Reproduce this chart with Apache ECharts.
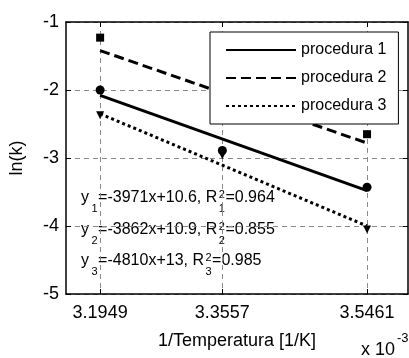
<!DOCTYPE html>
<html>
<head>
<meta charset="utf-8">
<script src="https://cdn.jsdelivr.net/npm/echarts@6/dist/echarts.min.js"></script>
<style>
  html, body { margin: 0; padding: 0; background: #fff; }
  #chart { width: 409px; height: 358px; }
</style>
</head>
<body>
<div id="chart"></div>
<script>
// x values are 1/T in units of 1e-3 1/K
const xTicks = [3.1949, 3.3557, 3.5461];
const yRange = [-5, -1];

// measured ln(k) points per procedure
const pts1 = [-2.0, -2.89, -3.43];
const pts2 = [-1.23, -2.42, -2.65];
const pts3 = [-2.37, -2.96, -4.05];

// regression lines, values at the first and last x tick
const fitX = [3.1949, 3.5461];
const fit1 = [-2.08, -3.48];
const fit2 = [-1.42, -2.78];
const fit3 = [-2.35, -4.0];

const names = ["procedura 1", "procedura 2", "procedura 3"];
const eqBody = ["=-3971x+10.6, R", "=-3862x+10.9, R", "=-4810x+13, R"];
const eqR2 = ["=0.964", "=0.855", "=0.985"];

const FONT = "Liberation Sans";
const zip = (xs, ys) => xs.map((x, i) => [x, ys[i]]);

// measure with zrender itself so layout matches what gets drawn
const textW = (t, size) =>
  new echarts.graphic.Text({ style: { text: t, fontSize: size, fontFamily: FONT } }).getBoundingRect().width;

function txt(text, x, y, size, align) {
  return {
    type: "text", x: x, y: y,
    style: { text: text, fontSize: size, fontFamily: FONT, fill: "#000", align: align || "left", verticalAlign: "middle" }
  };
}

// y_i=..., R^2_i=... with stacked sub/superscript
function eqLine(i, x0, y) {
  const sub = String(i + 1);
  const out = [txt("y", x0, y, 16)];
  let x = x0 + textW("y", 16) + 2.5;
  out.push(txt(sub, x, y + 11, 11));
  x += textW(sub, 11) + 0.5;
  out.push(txt(eqBody[i], x, y, 16));
  x += textW(eqBody[i], 16) + 1.5;
  out.push(txt("2", x, y - 3, 11));
  out.push(txt(sub, x, y + 11, 11));
  x += Math.max(textW("2", 11), textW(sub, 11)) + 0.5;
  out.push(txt(eqR2[i], x, y, 16));
  return out;
}

const chart = echarts.init(document.getElementById("chart"), null, { renderer: "canvas" });

const gridDash = { color: "#8a8a8a", type: [5, 4], width: 1 };
const axisLine = { show: true, lineStyle: { color: "#000", width: 1.5 } };

chart.setOption({
  backgroundColor: "#fff",
  animation: false,
  textStyle: { fontFamily: FONT },
  grid: { left: 64, right: 1, top: 22, bottom: 64, containLabel: false },
  legend: {
    data: names,
    orient: "vertical",
    left: 210,
    top: 32,
    padding: [10, 12, 10, 15],
    itemWidth: 70,
    itemHeight: 14,
    itemGap: 12,
    backgroundColor: "#fff",
    borderColor: "#000",
    borderWidth: 1,
    borderRadius: 0,
    itemStyle: { opacity: 0 },
    textStyle: { color: "#000", fontSize: 16, fontFamily: FONT }
  },
  xAxis: [
    {
      type: "value",
      min: 3.15,
      max: 3.6,
      name: "1/Temperatura [1/K]",
      nameLocation: "middle",
      nameGap: 38,
      nameTextStyle: { color: "#000", fontSize: 18, fontFamily: FONT },
      axisLine: axisLine,
      axisTick: { show: true, inside: true, length: 5, customValues: xTicks, lineStyle: { color: "#000" } },
      axisLabel: {
        customValues: xTicks,
        formatter: v => v.toFixed(4),
        color: "#000", fontSize: 18, fontFamily: FONT, margin: 10
      },
      splitLine: { show: true, lineStyle: gridDash }
    },
    {
      type: "value",
      position: "top",
      min: 3.15,
      max: 3.6,
      axisLine: axisLine,
      axisTick: { show: true, inside: true, length: 5, customValues: xTicks, lineStyle: { color: "#000" } },
      axisLabel: { show: false, customValues: xTicks },
      splitLine: { show: false }
    }
  ],
  yAxis: [
    {
      type: "value",
      min: yRange[0],
      max: yRange[1],
      interval: 1,
      name: "ln(k)",
      nameLocation: "middle",
      nameRotate: 90,
      nameGap: 40,
      nameTextStyle: { color: "#000", fontSize: 18, fontFamily: FONT },
      axisLine: axisLine,
      axisTick: { show: true, inside: true, length: 5, lineStyle: { color: "#000" } },
      axisLabel: { color: "#000", fontSize: 18, fontFamily: FONT, margin: 7 },
      splitLine: { show: true, lineStyle: gridDash }
    },
    {
      type: "value",
      position: "right",
      min: yRange[0],
      max: yRange[1],
      interval: 1,
      axisLine: axisLine,
      axisTick: { show: true, inside: true, length: 5, lineStyle: { color: "#000" } },
      axisLabel: { show: false },
      splitLine: { show: false }
    }
  ],
  series: [
    {
      name: names[0], type: "line", data: zip(fitX, fit1), symbol: "none",
      lineStyle: { color: "#000", width: 3, type: "solid" }, itemStyle: { color: "#000" }
    },
    {
      name: names[1], type: "line", data: zip(fitX, fit2), symbol: "none",
      lineStyle: { color: "#000", width: 3, type: [10, 5] }, itemStyle: { color: "#000" }
    },
    {
      name: names[2], type: "line", data: zip(fitX, fit3), symbol: "none",
      lineStyle: { color: "#000", width: 3, type: [3, 3] }, itemStyle: { color: "#000" }
    },
    { type: "scatter", data: zip(xTicks, pts1), symbol: "circle", symbolSize: 9, itemStyle: { color: "#000", opacity: 1 } },
    { type: "scatter", data: zip(xTicks, pts2), symbol: "rect", symbolSize: 8, itemStyle: { color: "#000", opacity: 1 } },
    { type: "scatter", data: zip(xTicks, pts3), symbol: "triangle", symbolRotate: 180, symbolSize: 8, itemStyle: { color: "#000", opacity: 1 } }
  ],
  graphic: [].concat(
    eqLine(0, 81, 198),
    eqLine(1, 81, 230),
    eqLine(2, 81, 261),
    [txt("x 10", 395, 350, 18, "right"), txt("-3", 397, 338, 13)]
  )
});
</script>
</body>
</html>
